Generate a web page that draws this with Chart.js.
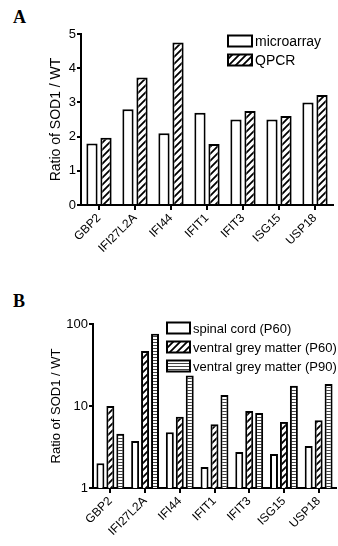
<!DOCTYPE html>
<html>
<head>
<meta charset="utf-8">
<script src="https://cdn.jsdelivr.net/npm/chart.js@4/dist/chart.umd.min.js"></script>
<style>
  body { margin: 0; background: #fff; }
  #wrap { position: relative; width: 338px; height: 546px; overflow: hidden; }
  canvas { position: absolute; left: 0; }
  .panel { position: absolute; left: 13px; font: bold 18px "Liberation Serif", serif; color: #000; }
</style>
</head>
<body>
<div id="wrap">
  <div class="panel" style="top:7px">A</div>
  <canvas id="chartA" width="338" height="270" style="top:0"></canvas>
  <div class="panel" style="top:291px">B</div>
  <canvas id="chartB" width="338" height="276" style="top:270px"></canvas>
</div>
<script>
'use strict';

const genes = ['GBP2', 'IFI27L2A', 'IFI44', 'IFIT1', 'IFIT3', 'ISG15', 'USP18'];

// panel A
const microarray = [1.8, 2.8, 2.1, 2.7, 2.5, 2.5, 3.0];
const qpcr = [1.97, 3.73, 4.75, 1.78, 2.75, 2.6, 3.22];
const ticksA = [0, 1, 2, 3, 4, 5];

// panel B
const spinalP60 = [2.0, 3.75, 4.8, 1.8, 2.75, 2.6, 3.25];
const greyP60 = [10, 47, 7.4, 6.0, 8.7, 6.4, 6.7];
const greyP90 = [4.6, 76, 23.5, 13.6, 8.2, 17.6, 18.5];
const ticksB = [1, 10, 100];

const yTitle = 'Ratio of SOD1 / WT';

Chart.defaults.font.family = '"Liberation Sans", Arial, sans-serif';
Chart.defaults.color = '#000';

const makeHatch = function() {
  let s = 7;
  let c = document.createElement('canvas');
  c.width = s; c.height = s;
  let g = c.getContext('2d');
  g.fillStyle = '#fff';
  g.fillRect(0, 0, s, s);
  g.strokeStyle = '#000';
  g.lineWidth = 1.8;
  g.beginPath();
  g.moveTo(-1, s + 1); g.lineTo(s + 1, -1);
  g.moveTo(-2, 2); g.lineTo(2, -2);
  g.moveTo(s - 2, s + 2); g.lineTo(s + 2, s - 2);
  g.stroke();
  return g.createPattern(c, 'repeat');
};

const makeStripes = function() {
  let c = document.createElement('canvas');
  c.width = 4; c.height = 3;
  let g = c.getContext('2d');
  g.fillStyle = '#fff';
  g.fillRect(0, 0, 4, 3);
  g.fillStyle = '#444';
  g.fillRect(0, 0, 4, 1);
  return g.createPattern(c, 'repeat');
};

const hatch = makeHatch();
const stripes = makeStripes();

// legend drawn inside the plot, like the prism figure
const boxLegend = {
  id: 'boxLegend',
  afterDraw(chart, args, opts) {
    const ctx = chart.ctx;
    ctx.save();
    ctx.font = opts.size + 'px "Liberation Sans", Arial, sans-serif';
    ctx.textBaseline = 'middle';
    chart.data.datasets.forEach((ds, i) => {
      let y = opts.y + i * opts.rowH;
      ctx.fillStyle = ds.backgroundColor;
      ctx.fillRect(opts.x, y - opts.boxH / 2, opts.boxW, opts.boxH);
      ctx.strokeStyle = '#000';
      ctx.lineWidth = 2;
      ctx.strokeRect(opts.x, y - opts.boxH / 2, opts.boxW, opts.boxH);
      ctx.fillStyle = '#000';
      ctx.fillText(ds.label, opts.x + opts.boxW + 3, y + 1);
    });
    ctx.restore();
  }
};

const axisGrid = function(len) {
  return {
    display: true,
    drawOnChartArea: false,
    drawTicks: true,
    tickLength: len,
    color: '#000',
    lineWidth: 2,
    offset: false
  };
};

const chartA = new Chart(document.getElementById('chartA').getContext('2d'), {
  type: 'bar',
  plugins: [boxLegend],
  data: {
    labels: genes,
    datasets: [{
      label: 'microarray',
      data: microarray,
      backgroundColor: '#fff',
      borderColor: '#000',
      borderWidth: 2,
      borderSkipped: 'bottom'
    }, {
      label: 'QPCR',
      data: qpcr,
      backgroundColor: hatch,
      borderColor: '#000',
      borderWidth: 2,
      borderSkipped: 'bottom'
    }]
  },
  options: {
    responsive: false,
    animation: false,
    devicePixelRatio: 1,
    layout: { padding: { left: 0, top: 34, right: 5, bottom: 0 } },
    categoryPercentage: 0.78,
    barPercentage: 0.8,
    plugins: {
      legend: { display: false },
      tooltip: { enabled: false },
      boxLegend: { x: 228, y: 41, rowH: 19, boxW: 24, boxH: 11, size: 14 }
    },
    scales: {
      x: {
        grid: axisGrid(5),
        border: { display: true, color: '#000', width: 2 },
        ticks: { minRotation: 45, maxRotation: 45, autoSkip: false, font: { size: 12 }, padding: 1 },
        afterFit: function(scale) { scale.height = 65; }
      },
      y: {
        min: 0,
        max: 5,
        grid: axisGrid(4),
        border: { display: true, color: '#000', width: 2 },
        ticks: { font: { size: 13 }, padding: 1 },
        afterBuildTicks: function(scale) { scale.ticks = ticksA.map(v => ({ value: v })); },
        title: { display: true, text: yTitle, font: { size: 14 }, padding: { top: 48, bottom: 0 } },
        afterFit: function(scale) { scale.width = 81; }
      }
    }
  }
});

const chartB = new Chart(document.getElementById('chartB').getContext('2d'), {
  type: 'bar',
  plugins: [boxLegend],
  data: {
    labels: genes,
    datasets: [{
      label: 'spinal cord (P60)',
      data: spinalP60,
      backgroundColor: '#fff',
      borderColor: '#000',
      borderWidth: 2,
      borderSkipped: 'bottom'
    }, {
      label: 'ventral grey matter (P60)',
      data: greyP60,
      backgroundColor: hatch,
      borderColor: '#000',
      borderWidth: 2,
      borderSkipped: 'bottom'
    }, {
      label: 'ventral grey matter (P90)',
      data: greyP90,
      backgroundColor: stripes,
      borderColor: '#000',
      borderWidth: 2,
      borderSkipped: 'bottom'
    }]
  },
  options: {
    responsive: false,
    animation: false,
    devicePixelRatio: 1,
    layout: { padding: { left: 0, top: 54, right: 2, bottom: 0 } },
    categoryPercentage: 0.86,
    barPercentage: 0.8,
    plugins: {
      legend: { display: false },
      tooltip: { enabled: false },
      boxLegend: { x: 167, y: 58, rowH: 19, boxW: 23, boxH: 11, size: 13 }
    },
    scales: {
      x: {
        grid: axisGrid(5),
        border: { display: true, color: '#000', width: 2 },
        ticks: { minRotation: 45, maxRotation: 45, autoSkip: false, font: { size: 12 }, padding: 1 },
        afterFit: function(scale) { scale.height = 58; }
      },
      y: {
        type: 'logarithmic',
        min: 1,
        max: 100,
        grid: axisGrid(4),
        border: { display: true, color: '#000', width: 2 },
        ticks: { font: { size: 13 }, padding: 1, callback: v => String(v) },
        afterBuildTicks: function(scale) { scale.ticks = ticksB.map(v => ({ value: v })); },
        title: { display: true, text: yTitle, font: { size: 13 }, padding: { top: 49, bottom: 0 } },
        afterFit: function(scale) { scale.width = 93; }
      }
    }
  }
});
</script>
</body>
</html>
